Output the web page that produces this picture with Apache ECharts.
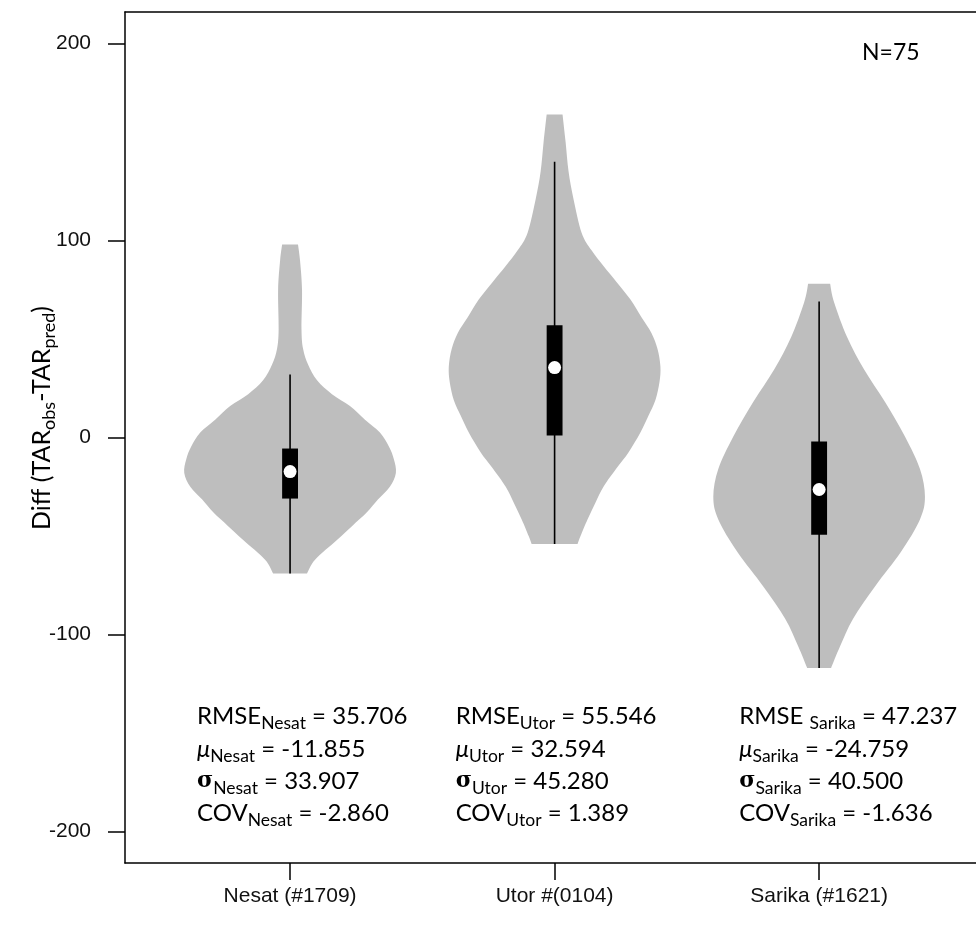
<!DOCTYPE html>
<html><head><meta charset="utf-8">
<script src="https://cdn.jsdelivr.net/npm/echarts@6/dist/echarts.min.js"></script>
<style>html,body{margin:0;padding:0;background:#fff}#c{width:976px;height:927px}</style>
</head><body><div id="c"></div>
<script>
// ---------- data ----------
const categories = ['Nesat (#1709)', 'Utor #(0104)', 'Sarika (#1621)'];
const storms = ['Nesat', 'Utor', 'Sarika'];
const positions = [1, 2, 3];
const yTicks = [-200, -100, 0, 100, 200];

// violin outlines: value levels and relative density (1 = widest)
const nesatLevels = [98, 90, 75, 55, 45, 37, 29, 22, 16, 9, 2.5, -4.6, -11, -18, -25, -31.5, -38, -45, -52, -62, -69];
const nesatDensity = [0.075, 0.094, 0.113, 0.108, 0.123, 0.170, 0.255, 0.396, 0.566, 0.708, 0.849, 0.934, 0.981, 1.0, 0.943, 0.830, 0.726, 0.585, 0.443, 0.236, 0.160];
const utorLevels = [164, 150, 135, 121, 104, 95, 87, 79, 70, 61, 53, 45, 36, 28, 19, 11, 2.5, -7.6, -15, -25, -33, -41.6, -50, -54];
const utorDensity = [0.075, 0.104, 0.132, 0.179, 0.255, 0.349, 0.462, 0.585, 0.717, 0.821, 0.915, 0.972, 1.0, 0.991, 0.953, 0.887, 0.811, 0.698, 0.594, 0.462, 0.387, 0.311, 0.245, 0.217];
const sarikaLevels = [78, 68.5, 51, 34.5, 18, 0.5, -16, -30, -41.6, -58, -75.6, -92, -106, -117];
const sarikaDensity = [0.104, 0.142, 0.264, 0.425, 0.623, 0.811, 0.953, 1.0, 0.953, 0.774, 0.528, 0.321, 0.198, 0.113];

// box plot statistics
const whiskerHi = [32, 140, 69];
const q3 = [-5.6, 57, -2];
const medians = [-17.3, 35.5, -26.4];
const q1 = [-31, 1, -49.4];
const whiskerLo = [-69, -54, -117];

// summary statistics
const rmse = [35.706, 55.546, 47.237];
const mu = [-11.855, 32.594, -24.759];
const sigma = [33.907, 45.280, 40.500];
const cov = [-2.860, 1.389, -1.636];
const sampleN = 75;

// ---------- layout / style constants ----------
const X_MIN = 0.376, X_MAX = 3.593;
const violinHalfWidth = 0.4;
const boxHalfWidth = 0.03;
const statsTop = -133.5;
const statsOffsetX = [-0.352, -0.374, -0.302];
const VIOLIN_COLOR = '#bebebe';

const levels = [nesatLevels, utorLevels, sarikaLevels];
const density = [nesatDensity, utorDensity, sarikaDensity];

function catmull(pts) {
  let s = '';
  for (let i = 0; i < pts.length - 1; i++) {
    const p0 = pts[Math.max(i - 1, 0)], p1 = pts[i], p2 = pts[i + 1], p3 = pts[Math.min(i + 2, pts.length - 1)];
    const c1x = p1[0] + (p2[0] - p0[0]) / 6, c1y = p1[1] + (p2[1] - p0[1]) / 6;
    const c2x = p2[0] - (p3[0] - p1[0]) / 6, c2y = p2[1] - (p3[1] - p1[1]) / 6;
    s += ' C ' + c1x + ' ' + c1y + ' ' + c2x + ' ' + c2y + ' ' + p2[0] + ' ' + p2[1];
  }
  return s;
}

function renderViolin(params, api) {
  const i = params.dataIndex;
  const pos = api.value(0);
  const lv = levels[i], dn = density[i];
  const right = lv.map((v, k) => api.coord([pos + dn[k] * violinHalfWidth, v]));
  const left = lv.map((v, k) => api.coord([pos - dn[k] * violinHalfWidth, v])).reverse();
  let d = 'M ' + right[0][0] + ' ' + right[0][1] + catmull(right);
  d += ' L ' + left[0][0] + ' ' + left[0][1] + catmull(left) + ' Z';
  const wTop = api.coord([pos, whiskerHi[i]]);
  const wBot = api.coord([pos, whiskerLo[i]]);
  const bTL = api.coord([pos - boxHalfWidth, q3[i]]);
  const bBR = api.coord([pos + boxHalfWidth, q1[i]]);
  const med = api.coord([pos, medians[i]]);
  return {
    type: 'group',
    children: [
      { type: 'path', shape: { pathData: d }, style: { fill: VIOLIN_COLOR, stroke: null } },
      { type: 'line', shape: { x1: wTop[0], y1: wTop[1], x2: wBot[0], y2: wBot[1] }, style: { stroke: '#000', lineWidth: 1.6 } },
      { type: 'rect', shape: { x: bTL[0], y: bTL[1], width: bBR[0] - bTL[0], height: bBR[1] - bTL[1] }, style: { fill: '#000' } },
      { type: 'circle', shape: { cx: med[0], cy: med[1], r: 6.5 }, style: { fill: '#fff' } }
    ]
  };
}

function fmt(v) { return v.toFixed(3); }

function renderStats(params, api) {
  const i = params.dataIndex;
  const pos = api.value(0);
  const p = api.coord([pos + statsOffsetX[i], statsTop]);
  const n = storms[i];
  const sep = i === 2 ? ' ' : '';
  const txt = [
    '{m|RMSE' + sep + '}{s|' + n + '}{m| = ' + fmt(rmse[i]) + '}',
    '{mu|\u03bc}{s|' + n + '}{m| = ' + fmt(mu[i]) + '}',
    '{sg|\u03c3}{s|' + n + '}{m| = ' + fmt(sigma[i]) + '}',
    '{m|COV}{s|' + n + '}{m| = ' + fmt(cov[i]) + '}'
  ].join('\n');
  return {
    type: 'text',
    x: p[0], y: p[1],
    style: {
      text: txt, align: 'left', verticalAlign: 'top',
      rich: {
        m: { fontFamily: 'Lato', fontSize: 24, color: '#000', lineHeight: 32.3 },
        mu: { fontFamily: 'Lato', fontSize: 24, fontStyle: 'italic', color: '#000', lineHeight: 32.3 },
        sg: { fontFamily: 'DejaVu Serif', fontSize: 22, fontWeight: 'bold', color: '#000', lineHeight: 32.3 },
        s: { fontFamily: 'Lato', fontSize: 17.5, color: '#000', lineHeight: 18, padding: [14, 0, 0, 0] }
      }
    }
  };
}

const axisLineStyle = { color: '#000', width: 1.5 };
const chart = echarts.init(document.getElementById('c'), null, { renderer: 'canvas' });
chart.setOption({
  animation: false,
  backgroundColor: '#fff',
  grid: { left: 125, top: 12, right: 0, height: 851, show: false },
  xAxis: [
    {
      type: 'value', min: X_MIN, max: X_MAX, position: 'bottom',
      axisLine: { show: true, onZero: false, lineStyle: axisLineStyle },
      axisTick: { show: true, length: 17, customValues: positions, lineStyle: axisLineStyle },
      axisLabel: { customValues: positions, margin: 23, fontFamily: 'Liberation Sans', fontSize: 21, color: '#111',
        formatter: v => categories[Math.round(v) - 1] || '' },
      splitLine: { show: false }
    },
    {
      type: 'value', min: X_MIN, max: X_MAX, position: 'top',
      axisLine: { show: true, onZero: false, lineStyle: axisLineStyle },
      axisTick: { show: false }, axisLabel: { show: false }, splitLine: { show: false }
    }
  ],
  yAxis: {
    type: 'value', min: -216, max: 216,
    axisLine: { show: true, onZero: false, lineStyle: axisLineStyle },
    axisTick: { show: true, length: 17, customValues: yTicks, lineStyle: axisLineStyle },
    axisLabel: { customValues: yTicks, margin: 34, fontFamily: 'Liberation Sans', fontSize: 21, color: '#111' },
    splitLine: { show: false }
  },
  graphic: [
    {
      type: 'text', x: 42, y: 418, rotation: Math.PI / 2,
      style: {
        text: '{m|Diff (TAR}{s|obs}{m|-TAR}{s|pred}{m|)}',
        align: 'center', verticalAlign: 'middle',
        rich: {
          m: { fontFamily: 'Lato', fontSize: 25, color: '#000', lineHeight: 34 },
          s: { fontFamily: 'Lato', fontSize: 18, color: '#000', lineHeight: 20, padding: [14, 0, 0, 0] }
        }
      }
    },
    {
      type: 'text', x: 862, y: 53,
      style: { text: 'N=' + sampleN, fontFamily: 'Lato', fontSize: 23, fill: '#000', align: 'left', verticalAlign: 'middle' }
    }
  ],
  series: [
    {
      type: 'custom', name: 'violin', renderItem: renderViolin, clip: false,
      encode: { x: 0, y: 1 },
      data: positions.map((p, i) => [p, medians[i]])
    },
    {
      type: 'custom', name: 'stats', renderItem: renderStats, clip: false,
      encode: { x: 0, y: 1 },
      data: positions.map((p, i) => [p, rmse[i]])
    }
  ]
});
</script></body></html>
